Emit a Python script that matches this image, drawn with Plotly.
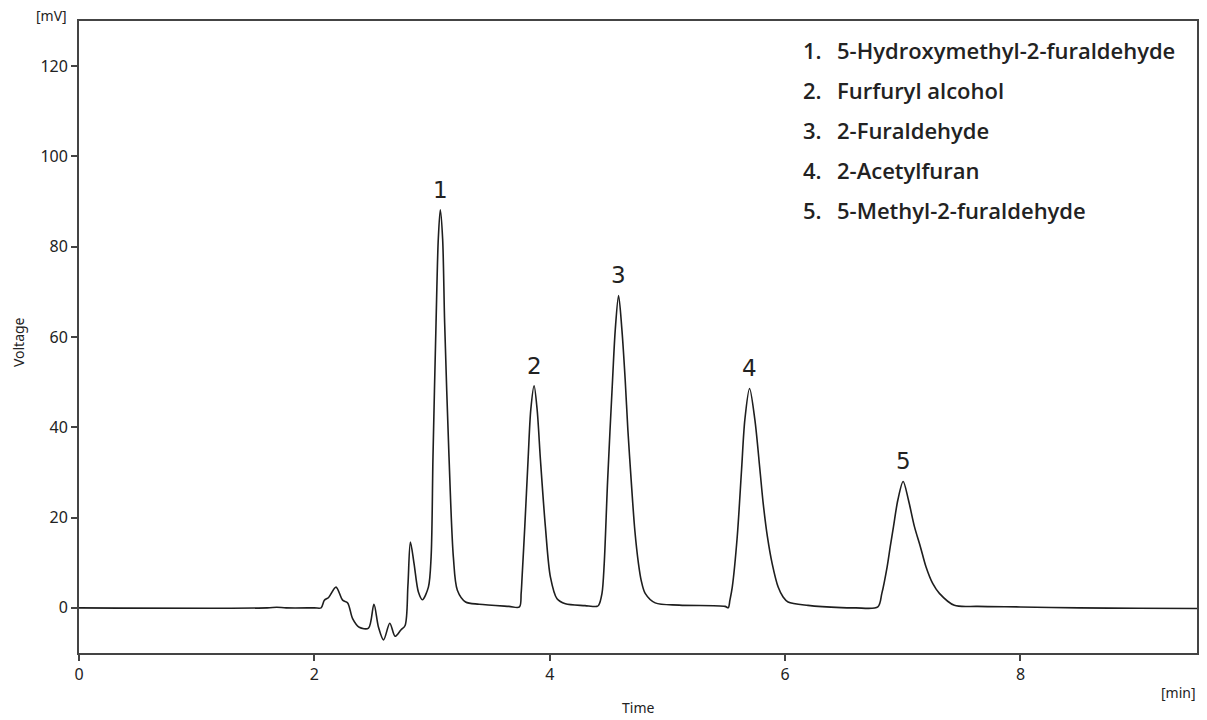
import plotly.graph_objects as go

# Chromatogram trace: retention time (min) and detector signal (mV)
time_min = [
    0.00, 1.60, 1.68, 1.76, 2.00, 2.057,
    2.085, 2.121, 2.184, 2.240, 2.283, 2.325, 2.381, 2.460, 2.506, 2.545,
    2.588, 2.641, 2.686, 2.735, 2.771, 2.795, 2.816, 2.847, 2.884, 2.918, 2.969,
    2.992, 3.008, 3.034, 3.053, 3.070, 3.090, 3.107, 3.144, 3.181, 3.215,
    3.285, 3.400, 3.653, 3.743,
    3.757, 3.765, 3.788, 3.816, 3.839, 3.867, 3.893, 3.921, 3.963, 4.006, 4.062,
    4.133, 4.300, 4.401,
    4.415, 4.444, 4.463, 4.492, 4.534, 4.557, 4.585, 4.613, 4.641, 4.664,
    4.692, 4.723, 4.754, 4.777, 4.811, 4.896, 5.100, 5.489,
    5.517, 5.531, 5.551, 5.593, 5.630, 5.658, 5.698, 5.743, 5.786, 5.814,
    5.850, 5.890, 5.941, 5.983, 6.025, 6.195, 6.477, 6.600,
    6.788, 6.822, 6.867, 6.893, 6.921, 6.958, 7.003, 7.048, 7.099, 7.150,
    7.197, 7.254, 7.311, 7.438, 7.636, 8.000, 8.500, 9.000, 9.500,
]
voltage_mv = [
    0.0, 0.0, 0.15, 0.0, 0.0, 0.0,
    1.7, 2.3, 4.6, 1.7, 1.1, -2.4, -4.3, -4.5, 0.8, -4.3,
    -7.1, -3.4, -6.3, -4.9, -3.9, 5.0, 14.6, 9.8, 3.5, 1.8, 4.6,
    11.3, 33.5, 63.2, 81.7, 88.2, 81.7, 63.2, 33.5, 11.3, 3.9,
    1.3, 0.8, 0.33, 0.2,
    3.2, 6.8, 18.0, 32.8, 43.9, 49.2, 43.9, 32.8, 18.0, 6.8, 2.0,
    0.9, 0.5, 0.33,
    0.55, 3.2, 9.8, 28.3, 50.6, 61.7, 69.2, 61.7, 50.6, 39.4,
    28.3, 17.2, 9.8, 6.1, 3.2, 1.1, 0.6, 0.33,
    0.04, 1.7, 4.6, 15.7, 30.6, 41.7, 48.6, 41.7, 30.6, 23.1,
    15.7, 9.8, 4.6, 2.4, 1.3, 0.55, 0.05, 0.0,
    0.2, 3.2, 9.1, 13.5, 18.0, 23.9, 28.0, 23.9, 18.0, 13.5,
    9.1, 5.4, 3.2, 0.55, 0.33, 0.2, 0.0, -0.1, -0.15,
]

# Peak apexes and their numbers
peak_times = [3.070, 3.867, 4.585, 5.698, 7.003]
peak_heights = [88.2, 49.2, 69.2, 48.6, 28.0]
peak_numbers = ["1", "2", "3", "4", "5"]

compound_names = [
    "5-Hydroxymethyl-2-furaldehyde",
    "Furfuryl alcohol",
    "2-Furaldehyde",
    "2-Acetylfuran",
    "5-Methyl-2-furaldehyde",
]

x_ticks = [0, 2, 4, 6, 8]
y_ticks = [0, 20, 40, 60, 80, 100, 120]

W, H = 1207, 720
ML, MR, MT, MB = 79, 8, 21, 67
PW, PH = W - ML - MR, H - MT - MB

TEXT = "#222222"
AXIS = "#444444"
tick_font = dict(family="Noto Sans", size=16, color=TEXT)


def px_x(p):
    return (p - ML) / PW


def px_y(p):
    return (H - MB - p) / PH


fig = go.Figure()
fig.add_trace(go.Scatter(
    x=time_min, y=voltage_mv, mode="lines",
    line=dict(color="#1e1e1e", width=1.6, shape="spline", smoothing=0.85),
    hoverinfo="skip", showlegend=False,
))

annotations = []
for t, h, n in zip(peak_times, peak_heights, peak_numbers):
    annotations.append(dict(
        x=t, y=h, xref="x", yref="y", text=n, showarrow=False,
        xanchor="center", yanchor="middle", yshift=20,
        font=dict(family="DejaVu Sans", size=23, color=TEXT),
    ))

list_font = dict(family="Open Sans", size=22, color=TEXT, weight=600)
for i, (n, name) in enumerate(zip(peak_numbers, compound_names)):
    yc = 49.5 + 40 * i
    annotations.append(dict(
        x=px_x(802), y=px_y(yc), xref="paper", yref="paper",
        text=n + ".", showarrow=False, xanchor="left", yanchor="middle",
        font=list_font,
    ))
    annotations.append(dict(
        x=px_x(836), y=px_y(yc), xref="paper", yref="paper",
        text=name, showarrow=False, xanchor="left", yanchor="middle",
        font=list_font,
    ))

small_font = dict(family="Noto Sans", size=14, color=TEXT)
annotations += [
    dict(x=px_x(51), y=px_y(16), xref="paper", yref="paper", text="[mV]",
         showarrow=False, xanchor="center", yanchor="middle", font=small_font),
    dict(x=px_x(1180), y=px_y(692), xref="paper", yref="paper", text="[min]",
         showarrow=False, xanchor="center", yanchor="middle", font=small_font),
    dict(x=px_x(639), y=px_y(707), xref="paper", yref="paper", text="Time",
         showarrow=False, xanchor="center", yanchor="middle", font=small_font),
    dict(x=px_x(18), y=px_y(342), xref="paper", yref="paper", text="Voltage",
         showarrow=False, xanchor="center", yanchor="middle", textangle=-90,
         font=small_font),
]

fig.update_layout(
    width=W, height=H,
    margin=dict(l=ML, r=MR, t=MT, b=MB),
    paper_bgcolor="white", plot_bgcolor="white",
    annotations=annotations,
    xaxis=dict(
        range=[0, 9.5], tickvals=x_ticks, ticks="outside", ticklen=6,
        tickwidth=1.5, tickcolor=AXIS, showline=True, linecolor=AXIS,
        linewidth=1.8, mirror=True, showgrid=False, zeroline=False,
        tickfont=tick_font,
    ),
    yaxis=dict(
        range=[-10, 130], tickvals=y_ticks, ticks="outside", ticklen=6,
        tickwidth=1.5, tickcolor=AXIS, showline=True, linecolor=AXIS,
        linewidth=1.8, mirror=True, showgrid=False, zeroline=False,
        tickfont=tick_font, ticklabelstandoff=0,
    ),
)

fig.write_html("out.html")
